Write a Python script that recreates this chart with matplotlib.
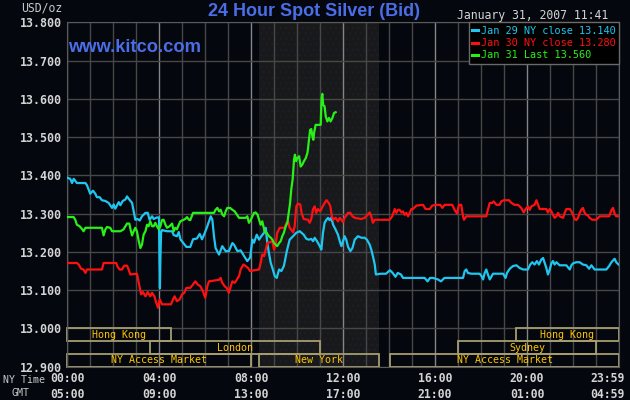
import numpy as np
import matplotlib.pyplot as plt
from matplotlib.patches import Rectangle
from matplotlib.lines import Line2D
from matplotlib.transforms import offset_copy

# hours since NY midnight / spot price
jan29_hours = [0.00, 0.14, 0.22, 0.29, 0.43, 0.80, 0.87, 1.01, 1.13, 1.23, 1.30, 1.42, 1.52, 1.67, 1.81, 1.96,
               2.03, 2.10, 2.25, 2.32, 2.42, 2.54, 2.61, 2.68, 2.83, 2.90, 2.97, 3.07, 3.16, 3.26, 3.41, 3.51,
               3.59, 3.70, 3.77, 3.91, 4.00, 4.02, 4.04, 4.06, 4.09, 4.13, 4.35, 4.57, 4.64, 4.78, 4.86, 4.93,
               5.07, 5.19, 5.36, 5.48, 5.65, 5.77, 5.87, 5.96, 6.10, 6.25, 6.32, 6.39, 6.46, 6.61, 6.75, 6.90,
               7.04, 7.19, 7.26, 7.41, 7.55, 7.70, 7.84, 7.96, 8.06, 8.13, 8.25, 8.35, 8.45, 8.57, 8.64, 8.71,
               8.78, 8.86, 8.93, 9.03, 9.12, 9.22, 9.32, 9.43, 9.55, 9.68, 9.83, 9.97, 10.12, 10.29, 10.41, 10.52,
               10.62, 10.70, 10.77, 10.87, 10.99, 11.06, 11.13, 11.20, 11.28, 11.35, 11.42, 11.49, 11.57, 11.68,
               11.78, 11.86, 11.93, 12.00, 12.07, 12.14, 12.22, 12.32, 12.41, 12.51, 12.65, 12.80, 12.94, 13.04,
               13.16, 13.23, 13.30, 13.38, 13.43, 13.65, 13.87, 14.04, 14.16, 14.28, 14.38, 14.52, 14.61, 15.04,
               15.55, 15.68, 15.78, 15.91, 16.13, 16.26, 16.41, 17.22, 17.29, 17.36, 17.43, 17.58, 17.94, 18.01,
               18.09, 18.16, 18.23, 18.30, 18.38, 18.45, 18.52, 18.96, 19.07, 19.13, 19.25, 19.39, 19.54, 19.68,
               19.83, 20.04, 20.14, 20.23, 20.33, 20.43, 20.52, 20.62, 20.70, 20.77, 20.84, 20.91, 20.99, 21.06,
               21.13, 21.20, 21.28, 21.42, 21.71, 21.86, 21.93, 22.00, 22.14, 22.29, 22.43, 22.58, 22.70, 22.80,
               22.94, 23.45, 23.57, 23.67, 23.81, 23.88, 23.98]
jan29_price = [13.394, 13.391, 13.380, 13.391, 13.380, 13.380, 13.374, 13.352, 13.360, 13.352, 13.343, 13.343,
               13.335, 13.333, 13.328, 13.315, 13.324, 13.313, 13.330, 13.322, 13.333, 13.337, 13.345, 13.339,
               13.328, 13.306, 13.284, 13.286, 13.282, 13.293, 13.302, 13.302, 13.284, 13.293, 13.286, 13.290,
               13.290, 13.180, 13.105, 13.180, 13.250, 13.257, 13.254, 13.254, 13.244, 13.241, 13.252, 13.233,
               13.222, 13.213, 13.213, 13.233, 13.235, 13.247, 13.233, 13.245, 13.267, 13.293, 13.284, 13.241,
               13.210, 13.193, 13.215, 13.202, 13.202, 13.223, 13.219, 13.202, 13.204, 13.189, 13.176, 13.185,
               13.232, 13.224, 13.245, 13.232, 13.241, 13.250, 13.263, 13.223, 13.197, 13.171, 13.158, 13.137,
               13.132, 13.154, 13.150, 13.163, 13.200, 13.232, 13.241, 13.250, 13.254, 13.245, 13.234, 13.232,
               13.234, 13.228, 13.237, 13.228, 13.215, 13.206, 13.250, 13.276, 13.284, 13.289, 13.283, 13.289,
               13.271, 13.258, 13.245, 13.228, 13.215, 13.228, 13.241, 13.232, 13.213, 13.202, 13.210, 13.232,
               13.241, 13.237, 13.237, 13.232, 13.219, 13.206, 13.189, 13.167, 13.141, 13.143, 13.143, 13.152,
               13.145, 13.135, 13.145, 13.141, 13.132, 13.132, 13.132, 13.123, 13.132, 13.132, 13.128, 13.123,
               13.132, 13.132, 13.150, 13.154, 13.145, 13.143, 13.143, 13.138, 13.128, 13.145, 13.154, 13.141,
               13.128, 13.135, 13.143, 13.143, 13.132, 13.145, 13.156, 13.163, 13.165, 13.158, 13.154, 13.154,
               13.167, 13.173, 13.167, 13.176, 13.167, 13.180, 13.184, 13.171, 13.158, 13.141, 13.154, 13.170,
               13.176, 13.167, 13.173, 13.165, 13.165, 13.154, 13.165, 13.170, 13.173, 13.173, 13.167, 13.165,
               13.156, 13.165, 13.154, 13.154, 13.163, 13.173, 13.182, 13.173, 13.167]

jan30_hours = [0.00, 0.43, 0.51, 0.61, 0.72, 0.80, 0.87, 1.52, 1.59, 2.14, 2.20, 2.29, 2.39, 2.49, 2.61, 2.68,
               2.75, 3.04, 3.12, 3.22, 3.30, 3.41, 3.51, 3.62, 3.70, 3.80, 3.88, 3.96, 4.03, 4.13, 4.52, 4.61,
               4.68, 4.78, 4.90, 5.00, 5.10, 5.19, 5.36, 5.48, 5.58, 5.68, 5.80, 5.91, 6.01, 6.10, 6.17, 6.61,
               6.68, 6.75, 6.86, 6.94, 7.04, 7.12, 7.19, 7.29, 7.38, 7.48, 7.55, 7.67, 7.77, 7.87, 7.96, 8.35,
               8.42, 8.49, 8.57, 8.64, 8.71, 8.93, 9.00, 9.07, 9.14, 9.25, 9.46, 9.54, 9.61, 9.68, 9.75, 9.83,
               9.90, 9.97, 10.04, 10.14, 10.20, 10.29, 10.48, 10.55, 10.62, 10.70, 10.77, 10.84, 10.91, 11.01,
               11.10, 11.20, 11.28, 11.38, 11.45, 11.51, 11.57, 11.68, 11.78, 11.86, 11.93, 12.00, 12.07, 12.22,
               12.32, 12.41, 12.51, 12.80, 12.94, 13.04, 13.16, 13.23, 13.30, 13.38, 14.03, 14.14, 14.25, 14.32,
               14.39, 14.46, 14.54, 14.61, 14.68, 14.75, 14.83, 14.90, 14.97, 15.04, 15.19, 15.48, 15.59, 15.77,
               15.88, 16.06, 16.23, 16.32, 16.42, 16.75, 16.86, 16.96, 17.04, 17.14, 17.22, 17.26, 17.36, 18.23,
               18.30, 18.38, 18.49, 18.55, 18.67, 18.81, 18.88, 18.99, 19.22, 19.32, 19.46, 19.61, 19.75, 19.86,
               19.94, 20.04, 20.12, 20.19, 20.33, 20.41, 20.48, 20.55, 20.84, 20.91, 20.99, 21.06, 21.13, 21.20,
               21.28, 21.35, 21.42, 21.57, 21.64, 21.71, 21.86, 21.93, 22.00, 22.07, 22.14, 22.22, 22.29, 22.36,
               22.43, 22.51, 22.58, 22.65, 22.72, 22.84, 23.01, 23.16, 23.57, 23.67, 23.74, 23.81, 23.88, 23.98]
jan30_price = [13.171, 13.171, 13.167, 13.156, 13.154, 13.145, 13.154, 13.154, 13.171, 13.171, 13.161, 13.154,
               13.154, 13.164, 13.164, 13.154, 13.141, 13.143, 13.119, 13.089, 13.095, 13.084, 13.095, 13.084,
               13.093, 13.084, 13.067, 13.054, 13.076, 13.063, 13.063, 13.076, 13.084, 13.071, 13.076, 13.089,
               13.093, 13.106, 13.106, 13.115, 13.123, 13.115, 13.110, 13.097, 13.080, 13.110, 13.123, 13.127,
               13.132, 13.119, 13.110, 13.106, 13.093, 13.110, 13.123, 13.119, 13.127, 13.137, 13.154, 13.167,
               13.163, 13.158, 13.150, 13.154, 13.171, 13.193, 13.189, 13.206, 13.223, 13.228, 13.206, 13.219,
               13.250, 13.263, 13.263, 13.276, 13.280, 13.263, 13.258, 13.251, 13.267, 13.319, 13.326, 13.324,
               13.302, 13.286, 13.284, 13.276, 13.286, 13.312, 13.319, 13.302, 13.312, 13.306, 13.317, 13.328,
               13.335, 13.328, 13.319, 13.295, 13.284, 13.289, 13.280, 13.289, 13.284, 13.278, 13.289, 13.302,
               13.302, 13.293, 13.289, 13.286, 13.289, 13.295, 13.303, 13.293, 13.276, 13.284, 13.284, 13.293,
               13.312, 13.302, 13.310, 13.310, 13.303, 13.306, 13.297, 13.302, 13.293, 13.302, 13.312, 13.312,
               13.321, 13.323, 13.312, 13.312, 13.321, 13.323, 13.323, 13.315, 13.323, 13.323, 13.309, 13.300,
               13.323, 13.323, 13.293, 13.284, 13.293, 13.293, 13.310, 13.328, 13.328, 13.332, 13.323, 13.323,
               13.332, 13.335, 13.335, 13.328, 13.323, 13.323, 13.315, 13.303, 13.312, 13.319, 13.310, 13.319,
               13.323, 13.335, 13.323, 13.312, 13.312, 13.303, 13.312, 13.306, 13.297, 13.289, 13.293, 13.302,
               13.293, 13.289, 13.302, 13.312, 13.312, 13.306, 13.297, 13.286, 13.283, 13.289, 13.302, 13.310,
               13.315, 13.302, 13.297, 13.295, 13.289, 13.284, 13.284, 13.293, 13.293, 13.309, 13.315, 13.300,
               13.293, 13.293]

jan31_hours = [0.00, 0.29, 0.36, 0.43, 0.55, 0.65, 0.72, 0.80, 1.52, 1.59, 1.67, 1.74, 1.88, 1.96, 2.32, 2.46,
               2.54, 2.61, 2.71, 2.78, 2.83, 2.90, 2.97, 3.04, 3.12, 3.19, 3.26, 3.33, 3.41, 3.48, 3.55, 3.62,
               3.70, 3.77, 3.84, 3.91, 3.99, 4.06, 4.13, 4.20, 4.28, 4.35, 4.46, 4.57, 4.64, 4.71, 4.78, 4.86,
               4.93, 5.04, 5.14, 5.22, 5.30, 5.36, 5.48, 6.39, 6.46, 6.54, 6.61, 6.68, 6.75, 6.83, 6.90, 6.97,
               7.09, 7.19, 7.29, 7.38, 7.48, 7.77, 7.84, 7.91, 7.99, 8.06, 8.13, 8.20, 8.28, 8.35, 8.42, 8.49,
               8.54, 8.59, 8.68, 8.78, 8.86, 8.93, 9.00, 9.07, 9.14, 9.22, 9.29, 9.36, 9.43, 9.51, 9.58, 9.65,
               9.70, 9.75, 9.81, 9.87, 9.91, 9.96, 10.01, 10.09, 10.16, 10.23, 10.30, 10.38, 10.45, 10.48, 10.52,
               10.57, 10.62, 10.67, 10.71, 10.74, 10.81, 11.03, 11.07, 11.10, 11.14, 11.20, 11.25, 11.32, 11.39,
               11.46, 11.54, 11.61, 11.68]
jan31_price = [13.291, 13.291, 13.284, 13.271, 13.267, 13.260, 13.254, 13.263, 13.263, 13.243, 13.259, 13.265,
               13.263, 13.254, 13.254, 13.259, 13.267, 13.274, 13.274, 13.254, 13.243, 13.254, 13.263, 13.254,
               13.228, 13.210, 13.219, 13.245, 13.254, 13.271, 13.267, 13.280, 13.267, 13.267, 13.276, 13.267,
               13.259, 13.267, 13.283, 13.284, 13.271, 13.263, 13.267, 13.274, 13.254, 13.263, 13.259, 13.271,
               13.280, 13.283, 13.286, 13.291, 13.284, 13.283, 13.302, 13.302, 13.310, 13.315, 13.306, 13.310,
               13.298, 13.293, 13.306, 13.315, 13.315, 13.310, 13.306, 13.298, 13.289, 13.289, 13.293, 13.276,
               13.284, 13.293, 13.302, 13.303, 13.298, 13.284, 13.271, 13.280, 13.267, 13.254, 13.250, 13.241,
               13.237, 13.232, 13.223, 13.219, 13.215, 13.223, 13.228, 13.241, 13.250, 13.267, 13.276, 13.306,
               13.328, 13.363, 13.389, 13.441, 13.454, 13.437, 13.445, 13.450, 13.423, 13.428, 13.437, 13.445,
               13.458, 13.471, 13.493, 13.519, 13.521, 13.502, 13.493, 13.510, 13.532, 13.532, 13.602, 13.613,
               13.584, 13.580, 13.554, 13.541, 13.550, 13.541, 13.550, 13.563, 13.565]

series_labels = ['Jan 29 NY close 13.140', 'Jan 30 NY close 13.280', 'Jan 31 Last 13.560']

y_ticks = [12.9, 13.0, 13.1, 13.2, 13.3, 13.4, 13.5, 13.6, 13.7, 13.8]
x_ticks = [0, 4, 8, 12, 16, 20, 24]
ny_labels = ['00:00', '04:00', '08:00', '12:00', '16:00', '20:00', '23:59']
gmt_labels = ['05:00', '09:00', '13:00', '17:00', '21:00', '01:00', '04:59']

# (name, start hour, end hour, row)
sessions = [('Hong Kong', 0, 4.5, 0), ('Hong Kong', 19.5, 24, 0),
            ('London', 3.6, 11.0, 1), ('Sydney', 17.0, 23.0, 1),
            ('NY Access Market', 0, 8.0, 2), ('New York', 8.33, 13.55, 2),
            ('NY Access Market', 14.05, 24, 2)]
ny_open, ny_close = 8.33, 13.55

bg = '#05070e'
mono = 'DejaVu Sans Mono'
cyan, red, green = '#1ec6f0', '#ff1010', '#28f018'
blue = '#4a6ee6'
plt.rcParams['hatch.linewidth'] = 0.5

fig = plt.figure(figsize=(6.3, 4.0), dpi=100, facecolor=bg)
ax = fig.add_axes([67 / 630, 1 - 366.7 / 400, 552 / 630, 344.4 / 400])
ax.set_facecolor(bg)

# New York trading hours shading
ax.axvspan(ny_open, ny_close, facecolor='#19191a', edgecolor='#18203f', hatch='...', lw=0, zorder=0)

ax.set_xlim(0, 24)
ax.set_ylim(12.9, 13.8)
ax.set_yticks(y_ticks)
ax.set_yticklabels(['%.3f' % v for v in y_ticks], family=mono, weight='bold', size=8.4, color='#d4d4d4')
ax.set_xticks(x_ticks)
ax.set_xticklabels([])
ax.set_xticks(range(25), minor=True)
ax.tick_params(length=0, which='both')
ax.tick_params(axis='y', pad=4)
ax.grid(True, which='minor', axis='x', color='#474747', lw=1)
ax.grid(True, which='major', axis='x', color='#858585', lw=1)
ax.grid(True, which='major', axis='y', color='#474747', lw=1)
ax.set_axisbelow(True)
for s in ax.spines.values():
    s.set_color('#5a5a5a')

# NY time and GMT labels under the axis
for x, ny, gmt in zip(x_ticks, ny_labels, gmt_labels):
    if x == 24:
        tr = offset_copy(ax.get_xaxis_transform(), fig=fig, x=6, y=0, units='dots')
        ha = 'right'
    else:
        tr = ax.get_xaxis_transform()
        ha = 'center'
    ax.text(x, -11.6 / 344.4, ny, transform=tr, ha=ha, va='center',
            family=mono, weight='bold', size=8.3, color='#d4d4d4')
    ax.text(x, -27.3 / 344.4, gmt, transform=tr, ha=ha, va='center',
            family=mono, weight='bold', size=8.3, color='#d4d4d4')
fig.text(24 / 630, 1 - 380 / 400, 'NY Time', ha='center', va='center', family=mono, size=7.2, color='#c8c8c8')
fig.text(20 / 630, 1 - 393 / 400, 'GMT', ha='center', va='center', family=mono, size=7.2, color='#c8c8c8')

# market sessions
row_h = 0.1 / 3
for name, start, end, row in sessions:
    y0 = 13.0 - (row + 1) * row_h
    ax.add_patch(Rectangle((start, y0), end - start, row_h, fill=False, ec='#a59e70', lw=1.3,
                           zorder=2, clip_on=False))
    ax.text((start + end) / 2, y0 + row_h / 2, name, ha='center', va='center', family=mono,
            size=7.2, color='#ffc400', zorder=3)

ax.plot(jan29_hours, jan29_price, color=cyan, lw=1.6, zorder=4)
ax.plot(jan30_hours, jan30_price, color=red, lw=1.6, zorder=5)
ax.plot(jan31_hours, jan31_price, color=green, lw=1.6, zorder=6)

handles = [Line2D([], [], color=c, lw=2.2) for c in (cyan, red, green)]
leg = ax.legend(handles, series_labels, loc='upper right', borderaxespad=0, handlelength=0.5,
                handletextpad=0.3, labelspacing=0.22, borderpad=0.35, fancybox=False,
                prop={'family': mono, 'size': 7.4}, labelcolor='linecolor', framealpha=1)
leg.get_frame().set_facecolor('#000000')
leg.get_frame().set_edgecolor('#6a6a6a')
leg.set_zorder(7)

fig.text(314 / 630, 1 - 12 / 400, '24 Hour Spot Silver (Bid)', ha='center', va='center',
         family='Liberation Sans', weight='bold', size=13, color=blue)
fig.text(68 / 630, 1 - 48 / 400, 'www.kitco.com', ha='left', va='center',
         family='Liberation Sans', weight='bold', size=13.2, color=blue)
fig.text(42 / 630, 1 - 8 / 400, 'USD/oz', ha='center', va='center', family=mono, size=8.3, color='#c8c8c8')
fig.text(608 / 630, 1 - 15 / 400, 'January 31, 2007 11:41', ha='right', va='center',
         family=mono, size=8.3, color='#d4d4d4')

fig.savefig('out.png', dpi=100, facecolor=bg)
